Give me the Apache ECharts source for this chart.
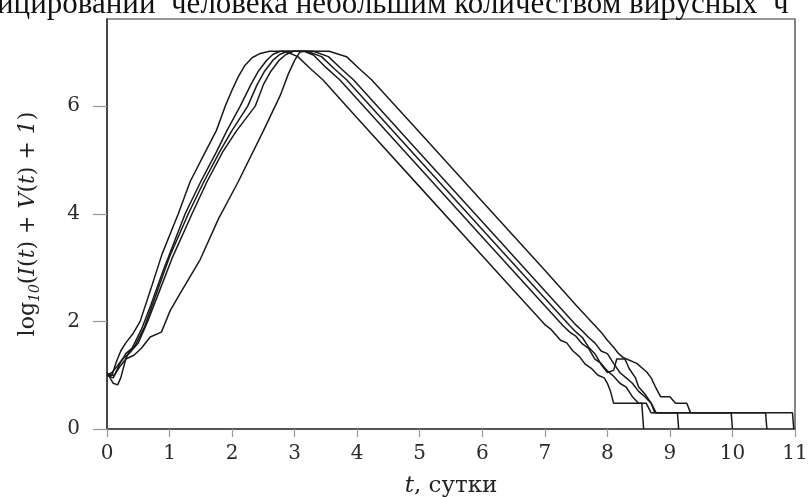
<!DOCTYPE html>
<html>
<head>
<meta charset="utf-8">
<script src="https://cdn.jsdelivr.net/npm/echarts@6/dist/echarts.min.js"></script>
<style>
html,body{margin:0;padding:0;background:#fff;}
#chart{width:811px;height:497px;}
</style>
</head>
<body>
<div id="chart"></div>
<script>
// Tick labels
var xTicks = [0,1,2,3,4,5,6,7,8,9,10,11];
var yTicks = [0,2,4,6];
var captionText = 'ицировании  человека небольшим количеством вирусных  ч';
var xName = ', сутки';

// Trajectories [t (days), log10(I+V+1)]
var curveA = [[0,1.02],[0.08,1.0],[0.15,1.25],[0.22,1.45],[0.3,1.6],[0.42,1.78],[0.53,2.0],[0.7,2.6],[0.88,3.25],[1.14,4.0],[1.33,4.6],[1.55,5.1],[1.75,5.55],[1.89,6.0],[2.0,6.3],[2.1,6.55],[2.2,6.75],[2.32,6.9],[2.45,6.98],[2.6,7.02],[2.85,7.02],[3.05,6.92],[3.25,6.7],[3.45,6.49],[4,5.78],[5,4.5],[6,3.22],[6.5,2.58],[7.0,1.94],[7.1,1.85],[7.2,1.72],[7.25,1.65],[7.35,1.6],[7.45,1.45],[7.55,1.35],[7.65,1.2],[7.75,1.12],[7.85,1.0],[7.95,0.95],[8.0,0.85],[8.05,0.7],[8.1,0.48],[8.55,0.48],[8.58,0]];
var curveB = [[0,1.0],[0.1,0.95],[0.2,1.2],[0.3,1.4],[0.4,1.5],[0.55,1.85],[0.7,2.3],[0.9,2.95],[1.1,3.55],[1.25,4.0],[1.5,4.6],[1.75,5.15],[1.915,5.54],[2.13,6.0],[2.3,6.4],[2.42,6.65],[2.55,6.85],[2.65,6.96],[2.77,7.02],[3.2,7.02],[3.43,6.92],[3.63,6.7],[3.83,6.49],[5,4.99],[6,3.71],[7,2.43],[7.4,1.92],[7.5,1.8],[7.6,1.7],[7.7,1.52],[7.8,1.4],[7.9,1.2],[8.0,1.05],[8.1,1.09],[8.15,1.3],[8.28,1.3],[8.35,1.12],[8.45,0.95],[8.5,0.78],[8.6,0.65],[8.7,0.48],[8.78,0.3],[9.98,0.3],[10.0,0]];
var curveC = [[0,1.05],[0.1,0.85],[0.17,0.82],[0.22,0.95],[0.3,1.3],[0.36,1.45],[0.45,1.55],[0.6,1.9],[0.8,2.55],[1.0,3.2],[1.3,4.0],[1.55,4.6],[1.8,5.15],[1.995,5.54],[2.25,6.0],[2.4,6.4],[2.52,6.65],[2.65,6.85],[2.76,6.96],[2.88,7.02],[3.3,7.02],[3.54,6.92],[3.74,6.7],[3.94,6.49],[5,5.13],[6,3.85],[7,2.57],[7.5,1.93],[7.6,1.82],[7.7,1.7],[7.8,1.6],[7.9,1.45],[8.0,1.4],[8.1,1.22],[8.2,1.05],[8.3,0.95],[8.4,0.85],[8.5,0.7],[8.6,0.6],[8.7,0.48],[8.76,0.3],[10.53,0.3],[10.55,0]];
var curveD = [[0,1.0],[0.08,1.05],[0.15,1.15],[0.25,1.3],[0.35,1.4],[0.5,1.6],[0.65,2.0],[0.85,2.6],[1.05,3.2],[1.36,4.0],[1.6,4.6],[1.85,5.15],[2.07,5.54],[2.37,6.0],[2.5,6.4],[2.62,6.65],[2.75,6.85],[2.86,6.96],[2.98,7.02],[3.55,7.02],[3.83,6.92],[4.03,6.7],[4.23,6.49],[5,5.51],[6,4.23],[7,2.95],[7.5,2.3],[7.9,1.8],[8.0,1.65],[8.1,1.52],[8.18,1.4],[8.25,1.33],[8.47,1.22],[8.63,1.06],[8.7,0.95],[8.77,0.78],[8.85,0.6],[9.0,0.6],[9.09,0.48],[9.27,0.48],[9.33,0.3],[10.96,0.3],[10.98,0]];
var curveE = [[0,1.0],[0.12,1.0],[0.2,1.15],[0.3,1.3],[0.43,1.37],[0.55,1.5],[0.69,1.71],[0.87,1.8],[1.01,2.2],[1.17,2.52],[1.49,3.15],[1.78,3.9],[2.1,4.6],[2.5,5.54],[2.77,6.2],[2.9,6.6],[3.0,6.85],[3.08,7.0],[3.15,7.02],[3.3,6.95],[3.5,6.72],[3.72,6.49],[5,4.85],[6,3.57],[7,2.29],[7.3,1.91],[7.4,1.8],[7.5,1.72],[7.6,1.58],[7.7,1.5],[7.8,1.3],[7.9,1.22],[8.0,1.08],[8.1,0.98],[8.2,0.85],[8.3,0.78],[8.4,0.6],[8.5,0.48],[8.62,0.48],[8.7,0.3],[9.12,0.3],[9.14,0]];

var curves = [curveA, curveB, curveC, curveD, curveE];

var chart = echarts.init(document.getElementById('chart'), null, {renderer:'canvas'});
var serif = 'DejaVu Serif';
var series = curves.map(function(c){
  return {type:'line', data:c, showSymbol:false, symbol:'none', smooth:false,
    lineStyle:{color:'#1a1a1a', width:1.5}, z:3};
});
chart.setOption({
  animation:false,
  backgroundColor:'#fff',
  grid:{left:107, right:16, top:19, bottom:68, show:true, borderColor:'#333', borderWidth:1.2, backgroundColor:'transparent', outerBoundsMode:'none', containLabel:false},
  graphic:[{type:'text', left:-3, top:-11, style:{text:captionText, font:'31px "Liberation Serif"', fill:'#111'}}],
  xAxis:{type:'value', min:0, max:11, interval:1,
    name:'{i|t}{a|' + xName + '}', nameLocation:'middle', nameGap:46,
    nameTextStyle:{rich:{i:{fontFamily:serif, fontStyle:'italic', fontSize:23, color:'#222'}, a:{fontFamily:serif, fontSize:23, color:'#222'}}},
    axisLine:{lineStyle:{color:'#555', width:2}},
    axisTick:{show:true, inside:false, length:8, lineStyle:{color:'#999', width:1.2}, customValues:xTicks},
    axisLabel:{fontFamily:serif, fontSize:20, color:'#2a2a2a', margin:15, customValues:xTicks},
    splitLine:{show:false}},
  yAxis:{type:'value', min:0, max:7.62, interval:2,
    name:'{a|log}{s|10}{a|(}{i|I}{a|(}{i|t}{a|) + }{i|V}{a|(}{i|t}{a|) + }{i|1}{a|)}',
    nameLocation:'middle', nameGap:65, nameRotate:90,
    nameTextStyle:{rich:{
      a:{fontFamily:serif, fontSize:22, color:'#222', lineHeight:28},
      i:{fontFamily:serif, fontStyle:'italic', fontSize:22, color:'#222', lineHeight:28},
      s:{fontFamily:serif, fontStyle:'italic', fontSize:14, color:'#222', lineHeight:28, verticalAlign:'bottom', padding:[10,0,0,0]}}},
    axisLine:{show:true, lineStyle:{color:'#333', width:1.5}},
    axisTick:{show:true, inside:false, length:14, lineStyle:{color:'#999', width:1.2}, customValues:yTicks},
    axisLabel:{fontFamily:serif, fontSize:20, color:'#2a2a2a', margin:27, customValues:yTicks},
    splitLine:{show:false}},
  series:series
});
</script>
</body>
</html>
